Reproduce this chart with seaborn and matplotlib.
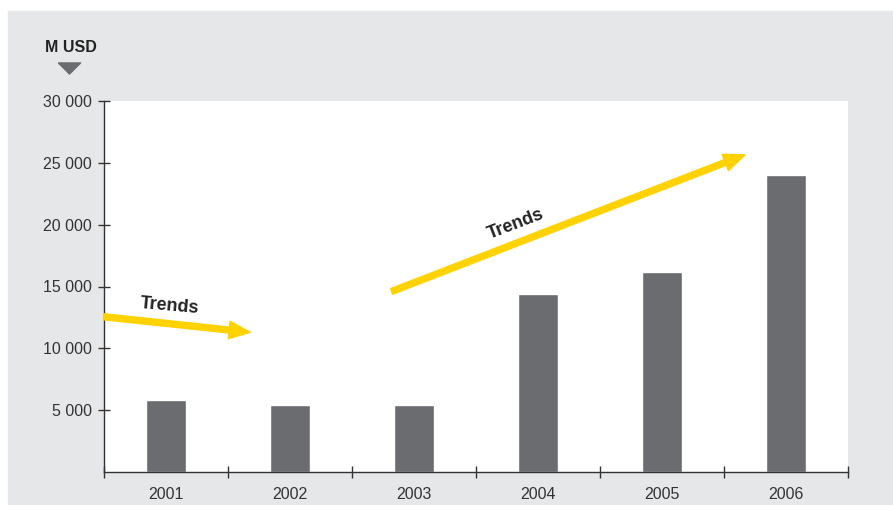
import numpy as np
import pandas as pd
import matplotlib
matplotlib.use('Agg')
import matplotlib.pyplot as plt
import seaborn as sns
from matplotlib.patches import FancyArrowPatch, Rectangle
from matplotlib.lines import Line2D
from matplotlib.ticker import FuncFormatter

years = ['2001', '2002', '2003', '2004', '2005', '2006']
revenue = [5800, 5400, 5400, 14400, 16150, 24000]
unit_label = 'M USD'
arrow_text = 'Trends'

bar_color = '#6b6c70'
panel_color = '#e6e7e9'
yellow = '#ffd200'
text_color = '#333333'

sns.set_style('white')
plt.rcParams['font.family'] = ['Liberation Sans', 'DejaVu Sans']

W, H = 893, 505
fig = plt.figure(figsize=(W / 100, H / 100), dpi=100)
fig.patch.set_facecolor('white')
fig.add_artist(Rectangle((8 / W, 0), 1 - 8 / W, 1 - 11 / H,
                         transform=fig.transFigure, color=panel_color, zorder=-10))

ax = fig.add_axes([104 / W, 33 / H, 744 / W, 371 / H])
ax.set_facecolor('white')

df = pd.DataFrame({'year': years, 'value': revenue})
sns.barplot(data=df, x='year', y='value', color=bar_color, width=0.32,
            saturation=1, ax=ax)

ax.set_xlim(-0.5, len(years) - 0.5)
ax.set_ylim(0, 30000)
ax.set_xlabel('')
ax.set_ylabel('')

sns.despine(ax=ax)
for s in ['left', 'bottom']:
    ax.spines[s].set_color('#333333')
    ax.spines[s].set_linewidth(1.0)

ax.set_yticks(np.arange(5000, 30001, 5000))
ax.yaxis.set_major_formatter(FuncFormatter(lambda v, p: f'{int(v):,}'.replace(',', ' ')))
ax.tick_params(axis='y', direction='inout', length=8, width=1, color='#333333',
               labelsize=11.5, labelcolor=text_color, pad=5, left=True)
ax.tick_params(axis='x', which='major', length=0, labelsize=11.5,
               labelcolor=text_color, pad=11)
ax.set_xticks(np.arange(-0.5, len(years), 1.0), minor=True)
ax.tick_params(axis='x', which='minor', direction='inout', length=9, width=1,
               color='#333333', bottom=True)

# trend arrows
def trend_arrow(start, end, label, lpos, rot):
    arr = FancyArrowPatch(start, end, arrowstyle='simple,head_length=0.85,head_width=0.7,tail_width=0.24',
                          mutation_scale=18, color=yellow, shrinkA=0, shrinkB=0,
                          clip_on=False, zorder=5)
    ax.add_patch(arr)
    ax.text(lpos[0], lpos[1], label, rotation=rot, rotation_mode='anchor',
            ha='center', va='center', fontsize=13, fontweight='bold',
            color='#222222', zorder=6)

trend_arrow((-0.5, 12550), (0.68, 11300), arrow_text, (0.03, 13450), -5)
trend_arrow((1.82, 14600), (4.67, 25650), arrow_text, (2.82, 20050), 21)

fig.text(71 / W, 1 - 48 / H, unit_label, ha='center', va='center',
         fontsize=11.5, fontweight='bold', color='#222222')
tri = [(-1, 0.5), (1, 0.5), (0, -0.5), (-1, 0.5)]
fig.add_artist(Line2D([68.5 / W], [1 - 67.5 / H], marker=tri, markersize=16,
                      color='#6b6c70', linestyle='none', transform=fig.transFigure))

fig.savefig('out.png', dpi=100, facecolor=fig.get_facecolor())
